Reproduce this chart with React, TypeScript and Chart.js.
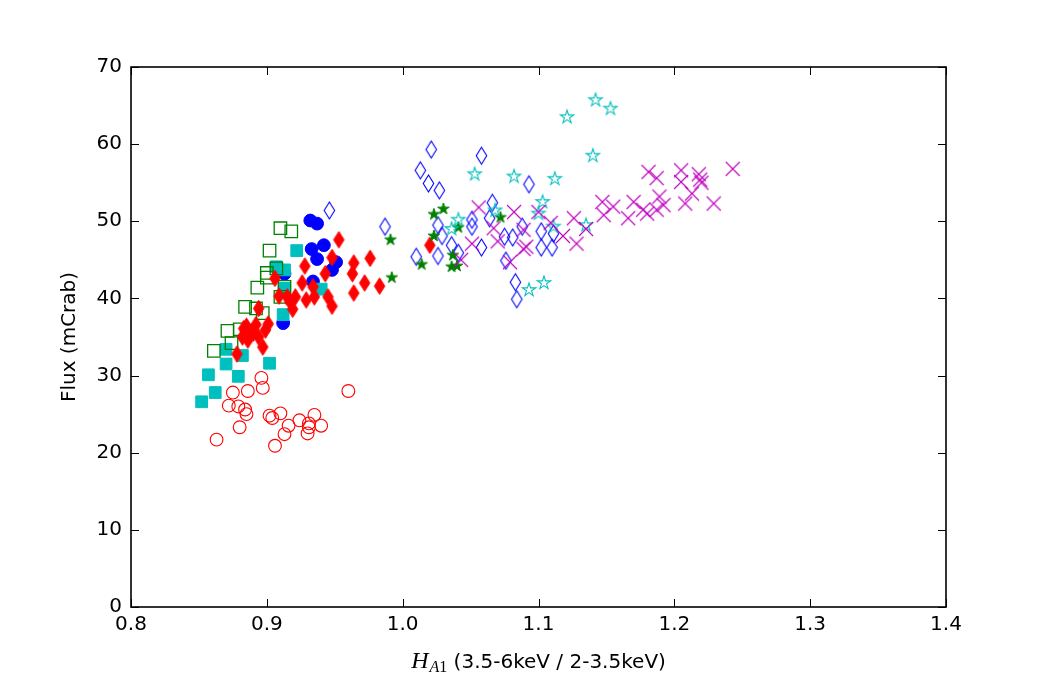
import { useEffect, useRef } from 'react';
import { Chart, registerables } from 'chart.js';

Chart.register(...registerables);

// ---- data: [H_A1, Flux (mCrab)] ----
const redOpenCircles: [number, number][] = [
  [0.896, 29.7], [0.897, 28.4], [0.886, 28.0], [0.875, 27.8], [0.872, 26.1], [0.879, 26.0],
  [0.884, 25.6], [0.885, 25.0], [0.880, 23.3], [0.863, 21.7], [0.904, 24.5], [0.902, 24.8],
  [0.910, 25.1], [0.916, 23.5], [0.913, 22.4], [0.924, 24.2], [0.931, 23.8], [0.935, 24.9],
  [0.931, 23.3], [0.930, 22.5], [0.940, 23.5], [0.906, 20.9], [0.960, 28.0],
];
const blueCircles: [number, number][] = [
  [0.932, 50.1], [0.937, 49.7], [0.933, 46.4], [0.942, 46.9], [0.937, 45.1], [0.951, 44.7],
  [0.948, 43.7], [0.934, 42.2], [0.913, 43.2], [0.912, 36.8],
];
const cyanSquares: [number, number][] = [
  [0.852, 26.6], [0.862, 27.8], [0.857, 30.1], [0.870, 31.5], [0.879, 29.9], [0.870, 33.4],
  [0.882, 32.6], [0.902, 31.6], [0.907, 44.1], [0.913, 43.7], [0.922, 46.2], [0.913, 41.3],
  [0.912, 37.9], [0.940, 41.2],
];
const greenOpenSquares: [number, number][] = [
  [0.910, 49.1], [0.918, 48.7], [0.902, 46.2], [0.900, 43.3], [0.900, 42.7], [0.893, 41.4],
  [0.910, 40.2], [0.884, 38.9], [0.892, 38.7], [0.897, 38.1], [0.871, 35.8], [0.880, 36.0],
  [0.861, 33.2], [0.874, 34.2], [0.907, 43.9], [0.913, 41.5],
];
const redDiamonds: [number, number][] = [
  [0.953, 47.6], [0.976, 45.2], [0.948, 45.3], [0.964, 44.6], [0.963, 43.2], [0.972, 42.0],
  [0.964, 40.7], [0.983, 41.6], [0.928, 44.2], [0.943, 43.2], [0.926, 42.0], [0.934, 41.5],
  [0.945, 40.2], [0.935, 40.2], [0.929, 39.8], [0.921, 40.2], [0.915, 40.2], [0.906, 42.6],
  [0.909, 40.3], [0.917, 39.6], [0.919, 38.6], [0.948, 39.0], [0.894, 38.7], [0.885, 36.4],
  [0.883, 36.1], [0.889, 35.7], [0.901, 36.7], [0.882, 35.0], [0.894, 35.0], [0.897, 33.7],
  [0.878, 32.8], [0.890, 35.5], [0.899, 35.9], [0.886, 34.6], [0.892, 36.6], [1.020, 46.9],
];
const blueOpenDiamonds: [number, number][] = [
  [1.021, 59.3], [1.058, 58.5], [1.013, 56.6], [1.019, 54.9], [1.027, 54.0], [0.987, 49.3],
  [1.026, 49.5], [1.029, 48.1], [1.036, 46.9], [1.041, 45.9], [1.010, 45.4], [1.026, 45.5],
  [1.051, 50.2], [1.051, 49.3], [1.058, 46.6], [1.066, 52.4], [1.064, 50.4], [1.075, 48.0],
  [1.076, 44.9], [1.081, 47.9], [1.088, 49.3], [1.083, 42.1], [1.084, 39.9], [1.093, 54.8],
  [1.102, 48.7], [1.102, 46.6], [1.111, 48.4], [1.110, 46.6], [0.946, 51.4],
];
const greenStars: [number, number][] = [
  [1.030, 51.6], [1.023, 50.9], [0.991, 47.6], [1.023, 48.1], [1.041, 49.2], [1.037, 45.6],
  [1.036, 44.1], [1.040, 44.2], [1.014, 44.4], [0.992, 42.7], [1.072, 50.5],
];
const cyanOpenStars: [number, number][] = [
  [1.142, 65.7], [1.153, 64.6], [1.121, 63.5], [1.140, 58.5], [1.053, 56.1], [1.082, 55.8],
  [1.112, 55.5], [1.103, 52.5], [1.100, 51.0], [1.111, 49.3], [1.135, 49.5], [1.104, 42.0],
  [1.093, 41.1], [1.041, 50.2], [1.036, 49.0], [1.068, 51.4],
];
const magentaCrosses: [number, number][] = [
  [1.043, 45.0], [1.051, 47.1], [1.056, 51.8], [1.067, 49.1], [1.070, 47.4], [1.082, 51.2],
  [1.079, 44.7], [1.089, 48.9], [1.091, 46.7], [1.089, 46.4], [1.100, 51.2], [1.109, 49.8],
  [1.118, 48.1], [1.126, 50.4], [1.128, 47.1], [1.135, 49.0], [1.147, 52.5], [1.148, 50.8],
  [1.155, 51.9], [1.166, 50.4], [1.170, 52.5], [1.181, 56.4], [1.187, 55.6], [1.177, 51.5],
  [1.180, 51.0], [1.189, 53.2], [1.192, 52.1], [1.187, 51.5], [1.205, 56.6], [1.205, 55.1],
  [1.213, 53.6], [1.208, 52.3], [1.218, 56.1], [1.219, 55.4], [1.220, 55.0], [1.229, 52.3],
  [1.243, 56.8],
];

const xTicks = [0.8, 0.9, 1.0, 1.1, 1.2, 1.3, 1.4];
const yTicks = [0, 10, 20, 30, 40, 50, 60, 70];
const xTitleMath = 'H';
const xTitleSub = 'A1';
const xTitleRest = ' (3.5-6keV / 2-3.5keV)';
const yTitle = 'Flux (mCrab)';

const RED = '#ff0000';
const BLUE = '#0000ff';
const CYAN = '#00bfbf';
const GREEN = '#008000';
const MAGENTA = '#bf00bf';
const NONE = 'rgba(0,0,0,0)';

function makeCanvas(size: number, draw: (ctx: CanvasRenderingContext2D) => void) {
  const c = document.createElement('canvas');
  c.width = size;
  c.height = size;
  const ctx = c.getContext('2d')!;
  ctx.translate(size / 2, size / 2);
  draw(ctx);
  return c;
}

function thinDiamond(w: number, h: number, fill: string | null, stroke: string, lw: number) {
  return makeCanvas(Math.ceil(h) + 4, (ctx) => {
    ctx.beginPath();
    ctx.moveTo(0, -h / 2);
    ctx.lineTo(w / 2, 0);
    ctx.lineTo(0, h / 2);
    ctx.lineTo(-w / 2, 0);
    ctx.closePath();
    if (fill) {
      ctx.fillStyle = fill;
      ctx.fill();
    }
    ctx.strokeStyle = stroke;
    ctx.lineWidth = lw;
    ctx.stroke();
  });
}

function star(r: number, fill: string | null, stroke: string, lw: number) {
  return makeCanvas(Math.ceil(2 * r) + 4, (ctx) => {
    ctx.beginPath();
    for (let i = 0; i < 10; i++) {
      const rr = i % 2 === 0 ? r : r * 0.382;
      const a = -Math.PI / 2 + (i * Math.PI) / 5;
      const px = rr * Math.cos(a);
      const py = rr * Math.sin(a);
      if (i === 0) ctx.moveTo(px, py);
      else ctx.lineTo(px, py);
    }
    ctx.closePath();
    if (fill) {
      ctx.fillStyle = fill;
      ctx.fill();
    }
    ctx.strokeStyle = stroke;
    ctx.lineWidth = lw;
    ctx.stroke();
  });
}

function crossMarker(half: number, stroke: string, lw: number) {
  return makeCanvas(Math.ceil(2 * half) + 4, (ctx) => {
    ctx.beginPath();
    ctx.moveTo(-half, -half);
    ctx.lineTo(half, half);
    ctx.moveTo(-half, half);
    ctx.lineTo(half, -half);
    ctx.strokeStyle = stroke;
    ctx.lineWidth = lw;
    ctx.stroke();
  });
}

const toPts = (arr: [number, number][]) => arr.map(([x, y]) => ({ x, y }));

const L = 131, T = 67, R = 946, B = 607;

export default function App() {
  const ref = useRef<HTMLCanvasElement | null>(null);

  useEffect(() => {
    document.body.style.margin = '0';
    const canvas = ref.current!;
    const redD = thinDiamond(10.5, 16.5, RED, RED, 1);
    const blueD = thinDiamond(10.5, 17, null, BLUE, 1.1);
    const gStar = star(6, GREEN, GREEN, 1);
    const cStar = star(7, null, CYAN, 1.1);
    const mX = crossMarker(7, MAGENTA, 1.1);

    const framePlugin = {
      id: 'frame',
      afterDraw(chart: any) {
        const ctx = chart.ctx as CanvasRenderingContext2D;
        const xs = chart.scales.x;
        const ys = chart.scales.y;
        const a = chart.chartArea;
        ctx.save();
        ctx.strokeStyle = '#000';
        ctx.lineWidth = 1;
        const tl = 8;
        ctx.beginPath();
        xTicks.forEach((v) => {
          const px = Math.round(xs.getPixelForValue(v)) + 0.5;
          ctx.moveTo(px, a.bottom);
          ctx.lineTo(px, a.bottom - tl);
          ctx.moveTo(px, a.top);
          ctx.lineTo(px, a.top + tl);
        });
        yTicks.forEach((v) => {
          const py = Math.round(ys.getPixelForValue(v)) + 0.5;
          ctx.moveTo(a.left, py);
          ctx.lineTo(a.left + tl, py);
          ctx.moveTo(a.right, py);
          ctx.lineTo(a.right - tl, py);
        });
        ctx.stroke();
        ctx.lineWidth = 1.6;
        ctx.strokeRect(a.left, a.top, a.right - a.left, a.bottom - a.top);

        // y title
        ctx.fillStyle = '#000';
        ctx.font = '20px "DejaVu Sans"';
        ctx.save();
        ctx.translate(75, (a.top + a.bottom) / 2);
        ctx.rotate(-Math.PI / 2);
        ctx.textAlign = 'center';
        ctx.textBaseline = 'alphabetic';
        ctx.fillText(yTitle, 0, 0);
        ctx.restore();

        // x title with math H_{A1}
        const fMath = 'italic 24px "Liberation Serif"';
        const fSubA = 'italic 16px "Liberation Serif"';
        const fSub1 = '16px "Liberation Serif"';
        const fRest = '20px "DejaVu Sans"';
        ctx.font = fMath;
        const wH = ctx.measureText(xTitleMath).width;
        ctx.font = fSubA;
        const wA = ctx.measureText(xTitleSub[0]).width;
        ctx.font = fSub1;
        const w1 = ctx.measureText(xTitleSub.slice(1)).width;
        ctx.font = fRest;
        const wR = ctx.measureText(xTitleRest).width;
        const total = wH + 1 + wA + w1 + wR;
        let x0 = (a.left + a.right) / 2 - total / 2;
        const base = 668;
        ctx.textAlign = 'left';
        ctx.textBaseline = 'alphabetic';
        ctx.font = fMath;
        ctx.fillText(xTitleMath, x0, base);
        x0 += wH + 1;
        ctx.font = fSubA;
        ctx.fillText(xTitleSub[0], x0, base + 4);
        x0 += wA;
        ctx.font = fSub1;
        ctx.fillText(xTitleSub.slice(1), x0, base + 4);
        x0 += w1;
        ctx.font = fRest;
        ctx.fillText(xTitleRest, x0, base);
        ctx.restore();
      },
    };

    const ds = (label: string, pts: [number, number][], order: number, extra: any) => ({
      label,
      data: toPts(pts),
      order,
      showLine: false,
      borderColor: NONE,
      backgroundColor: NONE,
      ...extra,
    });

    const chart = new Chart(canvas, {
      type: 'scatter',
      data: {
        datasets: [
          ds('red circles', redOpenCircles, 9, {
            pointStyle: 'circle', pointRadius: 6.4, pointBorderWidth: 1.1,
            pointBorderColor: RED, pointBackgroundColor: NONE,
          }),
          ds('blue circles', blueCircles, 8, {
            pointStyle: 'circle', pointRadius: 6.4, pointBorderWidth: 1,
            pointBorderColor: BLUE, pointBackgroundColor: BLUE,
          }),
          ds('cyan squares', cyanSquares, 7, {
            pointStyle: 'rect', pointRadius: 8.3, pointBorderWidth: 1,
            pointBorderColor: CYAN, pointBackgroundColor: CYAN,
          }),
          ds('green squares', greenOpenSquares, 6, {
            pointStyle: 'rect', pointRadius: 8.8, pointBorderWidth: 1.3,
            pointBorderColor: GREEN, pointBackgroundColor: NONE,
          }),
          ds('red diamonds', redDiamonds, 5, { pointStyle: redD, pointRadius: 8 }),
          ds('blue diamonds', blueOpenDiamonds, 4, { pointStyle: blueD, pointRadius: 8 }),
          ds('green stars', greenStars, 3, { pointStyle: gStar, pointRadius: 6 }),
          ds('cyan stars', cyanOpenStars, 2, { pointStyle: cStar, pointRadius: 7 }),
          ds('magenta crosses', magentaCrosses, 1, { pointStyle: mX, pointRadius: 8 }),
        ],
      },
      options: {
        responsive: false,
        maintainAspectRatio: false,
        animation: false,
        events: [],
        layout: { padding: { left: 0, top: T, right: 1050 - R, bottom: 0 } },
        plugins: {
          legend: { display: false },
          tooltip: { enabled: false },
          colors: { enabled: false },
        } as any,
        scales: {
          x: {
            type: 'linear', min: 0.8, max: 1.4,
            afterFit: (s: any) => { s.height = 675 - B; },
            afterBuildTicks: (s: any) => { s.ticks = xTicks.map((v) => ({ value: v })); },
            grid: { display: false, drawTicks: false },
            border: { display: false },
            ticks: {
              padding: 6, color: '#000', maxRotation: 0, autoSkip: false,
              font: { family: '"DejaVu Sans"', size: 20 },
              callback: (v: any) => Number(v).toFixed(1),
            },
          },
          y: {
            type: 'linear', min: 0, max: 70,
            afterFit: (s: any) => { s.width = L; },
            afterBuildTicks: (s: any) => { s.ticks = yTicks.map((v) => ({ value: v })); },
            grid: { display: false, drawTicks: false },
            border: { display: false },
            ticks: {
              padding: 9, color: '#000', autoSkip: false,
              font: { family: '"DejaVu Sans"', size: 20 },
              callback: (v: any) => String(v),
            },
          },
        },
      },
      plugins: [framePlugin],
    });
    return () => chart.destroy();
  }, []);

  return (
    <canvas
      ref={ref}
      width={1050}
      height={675}
      style={{ display: 'block', width: 1050, height: 675, background: '#fff' }}
    />
  );
}
